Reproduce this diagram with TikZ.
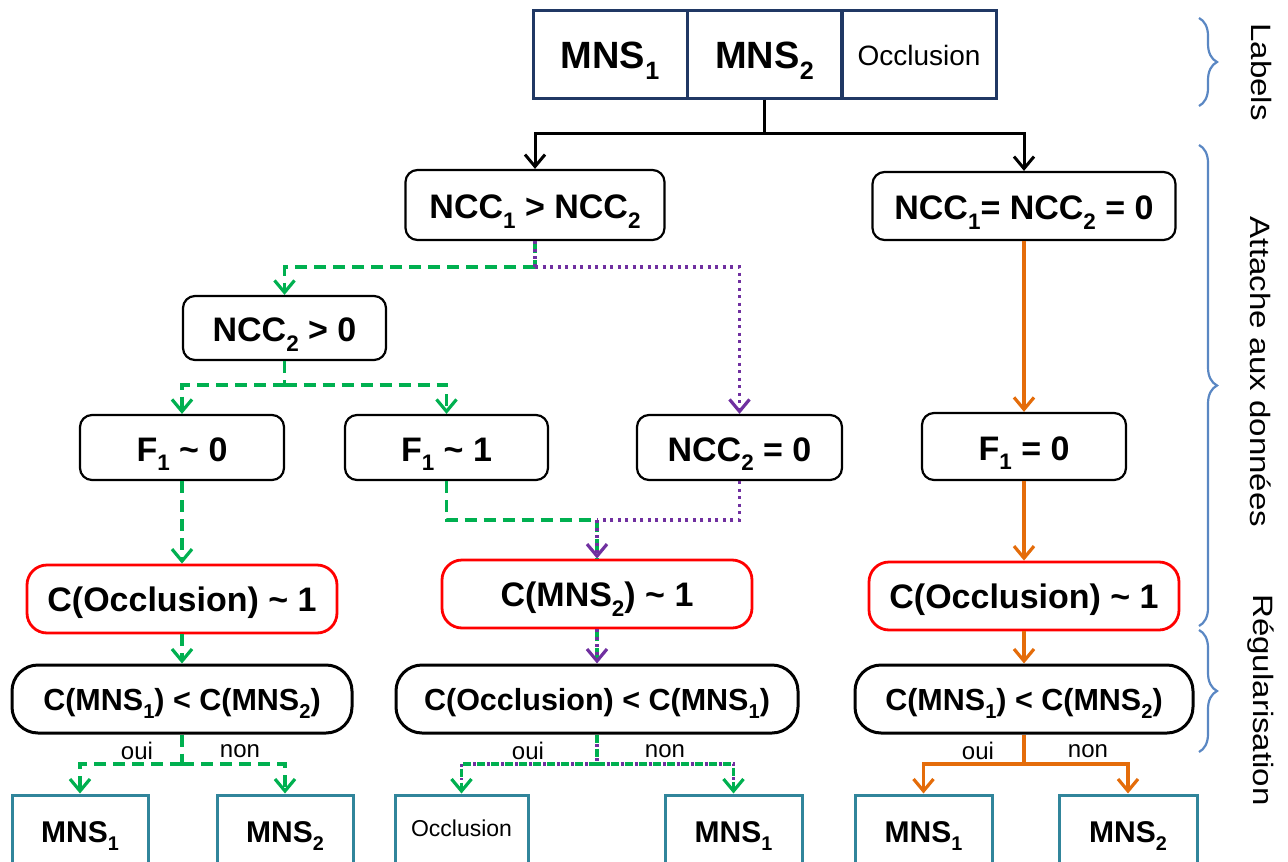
\documentclass[tikz,border=0pt]{standalone}
\usepackage{fontspec}
\setmainfont{Liberation Sans}
\usetikzlibrary{arrows.meta,decorations.pathreplacing}
\definecolor{navy}{RGB}{32,56,100}
\definecolor{tealb}{RGB}{49,133,155}
\definecolor{grn}{RGB}{0,176,80}
\definecolor{pur}{RGB}{112,48,160}
\definecolor{org}{RGB}{228,108,10}
\definecolor{brc}{RGB}{90,135,195}
\newcommand\dn[1]{\raisebox{-0.28em}{\scalebox{0.66}{#1}}}
\begin{document}
\begin{tikzpicture}[x=1pt,y=-1pt,
  hdr/.style={draw=navy, line width=3pt, inner sep=0pt, minimum width=154pt, minimum height=88pt, text depth=0pt},
  box/.style={draw=black, line width=2.2pt, rounded corners=12pt, inner sep=0pt, text height=27pt, text depth=0pt, font=\fontsize{34}{38}\selectfont\bfseries},
  redbox/.style={draw=red, line width=2.8pt, rounded corners=20pt, inner sep=0pt, minimum width=310pt, minimum height=68pt, text height=25pt, text depth=0pt, font=\fontsize{34}{38}\selectfont\bfseries},
  cmp/.style={draw=black, line width=3pt, rounded corners=26pt, inner sep=0pt, minimum height=68pt, text height=22pt, text depth=0pt, font=\fontsize{30.5}{34}\selectfont\bfseries},
  leaf/.style={draw=tealb, line width=3pt, inner sep=0pt, minimum height=72pt, text height=22pt, text depth=0pt, font=\fontsize{30}{34}\selectfont\bfseries},
  lbl/.style={inner sep=0pt, font=\fontsize{24}{28}\selectfont},
  side/.style={inner sep=0pt, rotate=-90, font=\fontsize{28}{32}\selectfont},
  tip/.style={-{Straight Barb[length=12pt,width=20pt]}},
  blk/.style={draw=black, line width=3pt},
  gdash/.style={draw=grn, line width=3.2pt, dash pattern=on 12pt off 7pt},
  pdot/.style={draw=pur, line width=3.2pt, dash pattern=on 3pt off 4.5pt},
  gdash2/.style={draw=grn, line width=3.2pt, dash pattern=on 8pt off 6pt},
  pdot2/.style={draw=pur, line width=3.2pt, dash pattern=on 3pt off 11pt, dash phase=4.5pt},
  orng/.style={draw=org, line width=3.2pt},
  brace/.style={draw=brc, line width=2.2pt, decorate, decoration={brace, amplitude=18pt}}
]
\useasboundingbox (0,0) rectangle (1288,862);
\clip (0,0) rectangle (1288,862);

% header
\node[hdr, text height=29pt, font=\fontsize{38}{42}\selectfont\bfseries] (h1) at (610,54) {MNS\dn{1}};
\node[hdr, text height=29pt, font=\fontsize{38}{42}\selectfont\bfseries] (h2) at (764.5,54) {MNS\dn{2}};
\node[hdr, text height=22pt, font=\fontsize{28}{32}\selectfont] (h3) at (919,54) {Occlusion};

% row 1
\node[box, minimum width=259pt, minimum height=70pt] (A) at (535,205) {NCC\dn{1} > NCC\dn{2}};
\node[box, minimum width=303pt, minimum height=68pt] (B) at (1024,206) {NCC\dn{1}= NCC\dn{2} = 0};
% row 2
\node[box, minimum width=203pt, minimum height=64pt] (N2) at (284.5,328) {NCC\dn{2} > 0};
% row 3
\node[box, minimum width=204pt, minimum height=65pt] (F10) at (182,447.5) {F\dn{1} \textasciitilde{} 0};
\node[box, minimum width=203pt, minimum height=65pt] (F11) at (446.5,447.5) {F\dn{1} \textasciitilde{} 1};
\node[box, minimum width=205pt, minimum height=65pt] (N20) at (739.5,447.5) {NCC\dn{2} = 0};
\node[box, minimum width=204pt, minimum height=67pt] (F0) at (1024,446.5) {F\dn{1} = 0};
% row 4
\node[redbox] (C1) at (182,599) {C(Occlusion) \textasciitilde{} 1};
\node[redbox] (C2) at (597,594) {C(MNS\dn{2}) \textasciitilde{} 1};
\node[redbox] (C3) at (1024,596) {C(Occlusion) \textasciitilde{} 1};
% row 5
\node[cmp, minimum width=340pt] (D1) at (182,699) {C(MNS\dn{1}) < C(MNS\dn{2})};
\node[cmp, minimum width=402pt] (D2) at (597,699) {C(Occlusion) < C(MNS\dn{1})};
\node[cmp, minimum width=338pt] (D3) at (1024,699) {C(MNS\dn{1}) < C(MNS\dn{2})};
% leaves
\node[leaf, minimum width=136pt] (E11) at (80,831) {MNS\dn{1}};
\node[leaf, minimum width=136pt] (E12) at (285,831) {MNS\dn{2}};
\node[leaf, minimum width=133pt, text height=11pt, font=\fontsize{23}{27}\selectfont] (E21) at (461.5,831) {Occlusion};
\node[leaf, minimum width=137pt] (E22) at (733.5,831) {MNS\dn{1}};
\node[leaf, minimum width=137pt] (E31) at (923.5,831) {MNS\dn{1}};
\node[leaf, minimum width=138pt] (E32) at (1128,831) {MNS\dn{2}};

% labels oui / non
\node[lbl] (o1) at (137,751) {oui};
\node[lbl] (n1) at (240,751) {non};
\node[lbl] (o2) at (528,751) {oui};
\node[lbl] (n2) at (665,751) {non};
\node[lbl] (o3) at (978,751) {oui};
\node[lbl] (n3) at (1088,751) {non};

% header connectors
\coordinate (j0) at (764.5,133);
\draw[blk] (h2.south) -- (j0);
\draw[blk,tip] (j0) -| (A.north);
\draw[blk,tip] (j0) -| (B.north);

% A branches
\coordinate (jA) at (535,267);
\draw[gdash] (A.south) -- (jA);
\draw[gdash,tip] (jA) -| (N2.north);
\draw[pdot] (A.south) -- (jA);
\draw[pdot,tip] (jA) -| (N20.north);

% N2 branches
\coordinate (jN) at (284.5,385);
\draw[gdash] (N2.south) -- (jN);
\draw[gdash,tip] (jN) -| (F10.north);
\draw[gdash,tip] (jN) -| (F11.north);

% row 3 to row 4
\draw[gdash,tip] (F10.south) -- (C1.north);
\coordinate (jM) at (597,520);
\draw[gdash] (F11.south) |- (jM);
\draw[pdot] (N20.south) |- (jM);
\draw[gdash] (jM) -- (C2.north);
\draw[pdot,tip] (jM) -- (C2.north);
\draw[orng,tip] (B.south) -- (F0.north);
\draw[orng,tip] (F0.south) -- (C3.north);

% row 4 to row 5
\draw[gdash,tip] (C1.south) -- (D1.north);
\draw[gdash] (C2.south) -- (D2.north);
\draw[pdot,tip] (C2.south) -- (D2.north);
\draw[orng,tip] (C3.south) -- (D3.north);

% row 5 to leaves
\coordinate (jD1) at (182,764);
\draw[gdash] (D1.south) -- (jD1);
\draw[gdash,tip] (jD1) -| (E11.north);
\draw[gdash,tip] (jD1) -| (E12.north);

\coordinate (jD2) at (597,764);
\draw[gdash2] (D2.south) -- (jD2);
\draw[pdot2] (D2.south) -- (jD2);
\draw[gdash2,tip] (jD2) -| (E21.north);
\draw[gdash2,tip] (jD2) -| (E22.north);
\draw[pdot2, shorten >=14pt] (jD2) -| (E21.north);
\draw[pdot2, shorten >=14pt] (jD2) -| (E22.north);

\coordinate (jD3) at (1024,764);
\draw[orng] (D3.south) -- (jD3);
\draw[orng,tip] (jD3) -| (E31.north);
\draw[orng,tip] (jD3) -| (E32.north);

% braces and side labels
\coordinate (b1a) at (1199,18); \coordinate (b1b) at (1199,106);
\coordinate (b2a) at (1199,145); \coordinate (b2b) at (1199,626);
\coordinate (b3a) at (1199,630); \coordinate (b3b) at (1199,752);
\draw[brace] (b1a) -- (b1b);
\draw[brace] (b2a) -- (b2b);
\draw[brace] (b3a) -- (b3b);
\node[side] (s1) at (1261,72) {\scalebox{1.18}[1]{Labels}};
\node[side] (s2) at (1261,372) {\scalebox{1.18}[1]{Attache aux données}};
\node[side] (s3) at (1261,700) {\scalebox{1.18}[1]{Régularisation}};
\end{tikzpicture}
\end{document}
